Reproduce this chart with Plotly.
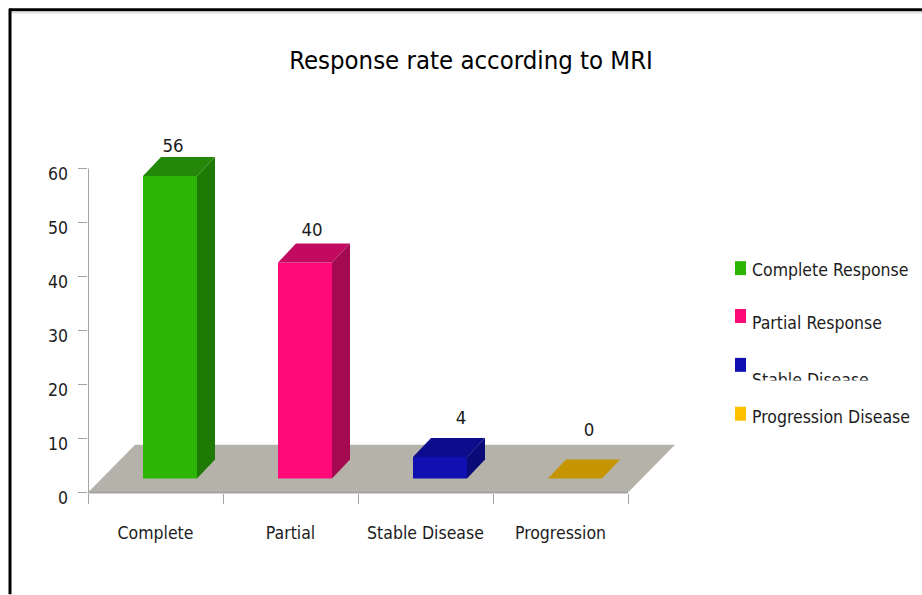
import plotly.graph_objects as go

categories = ["Complete", "Partial", "Stable Disease", "Progression"]
legend_names = ["Complete Response", "Partial Response", "Stable Disease", "Progression Disease"]
values = [56, 40, 4, 0]
y_ticks = [0, 10, 20, 30, 40, 50, 60]

front_colors = ["#2bb505", "#ff0a78", "#1010b0", "#c49500"]
top_colors = ["#238808", "#c20a60", "#0c0c8c", "#c49500"]
side_colors = ["#1f7a05", "#a30a50", "#0a0a78", "#c49500"]
legend_colors = ["#2bb505", "#ff0a78", "#1010b0", "#ffc000"]

W, H = 922, 595
PX_X = 135.0
PX_Y = 325 / 60.0
Y_MIN, Y_MAX = -1.2, 66.0
ZERO_PX = 493
L, R = 88, 682
T = ZERO_PX - Y_MAX * PX_Y
B = ZERO_PX - Y_MIN * PX_Y
FONT = "DejaVu Sans Condensed, Lato, sans-serif"
INK = "#1c1c1c"
AXIS = "#a3a3a3"

BAR_W = 54 / PX_X
SHIFT_X = 82 / PX_X      # front face centre within a category
BASE = 14 / PX_Y         # front face sits forward on the floor
DX = 18 / PX_X           # bar depth
DY = 19 / PX_Y
FLOOR_DX = 47 / PX_X
FLOOR_DY = 48 / PX_Y
LABEL_DX = [3, 7, 21, 14]
LABEL_DY = [10, 12, 19, 28]


def px(x):
    return (x - L) / (R - L)


def py(y):
    return (B - y) / (B - T)


fig = go.Figure()

for i, cat in enumerate(categories):
    xc = i + SHIFT_X
    x0, x1 = xc - BAR_W / 2, xc + BAR_W / 2
    top = BASE + values[i]
    if values[i] > 0:
        fig.add_trace(go.Bar(x=[xc], y=[values[i]], base=[BASE], width=[BAR_W], name=legend_names[i],
                             marker=dict(color=front_colors[i], line=dict(width=0)),
                             cliponaxis=False, showlegend=False, hoverinfo="skip"))
        fig.add_trace(go.Scatter(x=[x1, x1 + DX, x1 + DX, x1, x1], y=[BASE, BASE + DY, top + DY, top, BASE],
                                 fill="toself", fillcolor=side_colors[i], mode="lines", line=dict(width=0),
                                 cliponaxis=False, showlegend=False, hoverinfo="skip"))
    fig.add_trace(go.Scatter(x=[x0, x1, x1 + DX, x0 + DX, x0], y=[top, top, top + DY, top + DY, top],
                             fill="toself", fillcolor=top_colors[i], mode="lines", line=dict(width=0),
                             cliponaxis=False, showlegend=False, hoverinfo="skip"))
    fig.add_trace(go.Scatter(x=[xc + LABEL_DX[i] / PX_X], y=[top + DY + LABEL_DY[i] / PX_Y],
                             mode="text", text=[str(values[i])], textposition="middle center",
                             textfont=dict(family=FONT, size=18.5, color=INK),
                             cliponaxis=False, showlegend=False, hoverinfo="skip"))

n = len(categories)
# axis lines: category axis = front edge of the floor, value axis stops at the top tick
fig.add_trace(go.Scatter(x=[0, n], y=[0, 0], mode="lines", line=dict(color=AXIS, width=2),
                         cliponaxis=False, showlegend=False, hoverinfo="skip"))
fig.add_trace(go.Scatter(x=[0, 0], y=[0, y_ticks[-1]], mode="lines", line=dict(color=AXIS, width=2),
                         cliponaxis=False, showlegend=False, hoverinfo="skip"))

floor = f"M 0 0 L {n} 0 L {n + FLOOR_DX} {FLOOR_DY} L {FLOOR_DX} {FLOOR_DY} Z"
shapes = [
    dict(type="path", path=floor, xref="x", yref="y", fillcolor="#b5b2aa", line=dict(width=0), layer="below"),
    dict(type="line", xref="paper", yref="paper", x0=px(10), x1=px(10), y0=py(8), y1=py(H),
         line=dict(color="#000000", width=3)),
    dict(type="line", xref="paper", yref="paper", x0=px(9), x1=px(W), y0=py(9), y1=py(9),
         line=dict(color="#000000", width=3)),
    dict(type="line", xref="paper", yref="paper", x0=px(12), x1=px(W), y0=py(12), y1=py(12),
         line=dict(color="#d0d0d0", width=1)),
]

legend_y = [268, 316, 365, 414]
text_y = [270, 323, 380, 417]
annotations = []
for i, name in enumerate(legend_names):
    shapes.append(dict(type="rect", xref="paper", yref="paper", x0=px(735), x1=px(746),
                       y0=py(legend_y[i] - 7), y1=py(legend_y[i] + 7),
                       fillcolor=legend_colors[i], line=dict(width=0)))
    annotations.append(dict(xref="paper", yref="paper", x=px(750), y=py(text_y[i]), xanchor="left", yanchor="middle",
                            text=name, showarrow=False, font=dict(family=FONT, size=17.5, color=INK)))
# the third legend entry is cut off in the reference
annotations.append(dict(xref="paper", yref="paper", x=px(745), y=py(380), xanchor="left", yanchor="top",
                        text=" ", showarrow=False, bgcolor="#ffffff", width=175, height=22, borderpad=0,
                        font=dict(size=14)))

fig.update_layout(
    width=W, height=H, autosize=False,
    margin=dict(l=L, r=W - R, t=T, b=H - B),
    paper_bgcolor="#ffffff", plot_bgcolor="rgba(0,0,0,0)",
    title=dict(text="Response rate according to MRI", x=471 / W, xanchor="center", y=1 - 60 / H, yanchor="middle",
               font=dict(family=FONT, size=25.5, color="#000000")),
    showlegend=False, barmode="overlay", shapes=shapes, annotations=annotations,
    xaxis=dict(range=[0, (R - L) / PX_X], anchor="free", position=(B - ZERO_PX) / (B - T),
               tickmode="array", tickvals=[i + 0.5 for i in range(n)], ticktext=categories,
               ticks="", showline=False, showgrid=False, zeroline=False, ticklabelstandoff=28,
               tickfont=dict(family=FONT, size=17.5, color=INK),
               minor=dict(tickmode="array", tickvals=list(range(n + 1)), ticks="outside", ticklen=10, tickcolor=AXIS,
                          tickwidth=1, showgrid=False)),
    yaxis=dict(range=[Y_MIN, Y_MAX], tickmode="array", tickvals=[v - 5 / PX_Y for v in y_ticks],
               ticktext=[str(v) for v in y_ticks],
               ticks="", showline=False, showgrid=False, zeroline=False, ticklabelstandoff=19,
               tickfont=dict(family=FONT, size=17.5, color=INK),
               minor=dict(tickmode="array", tickvals=y_ticks, ticks="outside", ticklen=9, tickcolor=AXIS, tickwidth=1,
                          showgrid=False)),
)

fig.write_html("out.html", config=dict(displayModeBar=False),
               post_script="document.body.style.margin='0';")
